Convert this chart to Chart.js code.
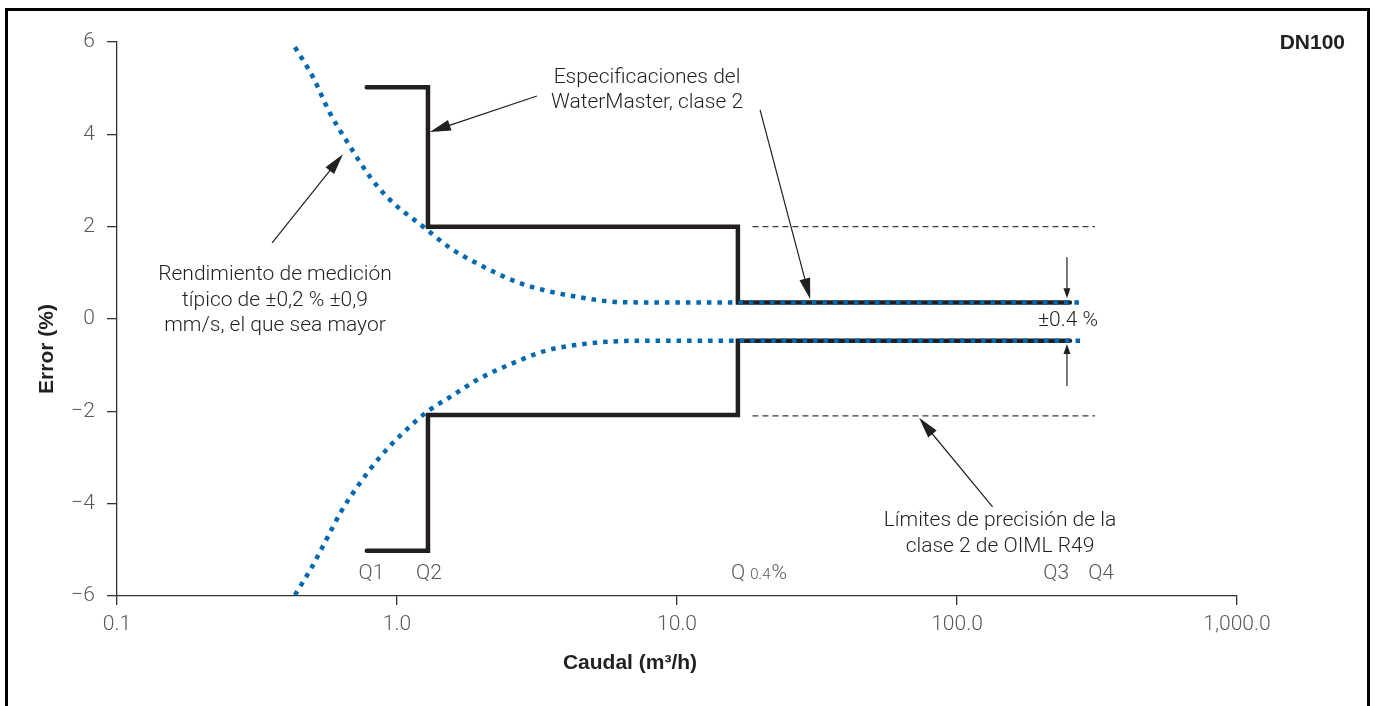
<!DOCTYPE html>
<html>
<head>
<meta charset="utf-8">
<script src="https://cdn.jsdelivr.net/npm/chart.js@4/dist/chart.umd.min.js"></script>
<style>
  html, body { margin: 0; padding: 0; background: #fff; }
  #wrap { width: 1375px; height: 706px; }
</style>
</head>
<body>
<div id="wrap"><canvas id="errorChart" width="1375" height="706"></canvas></div>
<script>
// Caudal (m3/h) y error (%)
const xTickValues = [0.1, 1, 10, 100, 1000];
const xTickLabels = ['0.1', '1.0', '10.0', '100.0', '1,000.0'];

// rendimiento típico (curva azul punteada)
const typFlowUpper = [0.432, 0.501, 0.576, 0.668, 0.801, 0.944, 1.259, 1.546, 1.98, 2.68, 3.43, 4.39, 5.76, 7.38, 279];
const typErrUpper = [5.89, 5.24, 4.46, 3.81, 3.08, 2.58, 1.97, 1.54, 1.17, 0.80, 0.61, 0.48, 0.38, 0.36, 0.36];
const typFlowLower = [0.432, 0.497, 0.544, 0.636, 0.738, 0.869, 1.05, 1.28, 1.585, 1.93, 2.68, 3.43, 4.39, 5.76, 7.38, 279];
const typErrLower = [-5.98, -5.37, -4.92, -4.14, -3.55, -2.99, -2.47, -2.01, -1.65, -1.32, -0.92, -0.68, -0.56, -0.49, -0.47, -0.47];

// especificación WaterMaster clase 2 (escalones negros)
const specFlow = [0.78, 1.29, 1.29, 16.5, 16.5, 253];
const specErrUpper = [5.02, 5.02, 2.0, 2.0, 0.36, 0.36];
const specErrLower = [-5.02, -5.02, -2.08, -2.08, -0.47, -0.47];

// límites OIML R49 clase 2 (discontinuas)
const oimlFlow = [18.6, 311];
const oimlErrUpper = [2.0, 2.0];
const oimlErrLower = [-2.1, -2.1];

// marcas de caudal
const qNames = ['Q1', 'Q2', 'Q3', 'Q4'];
const qFlows = [0.81, 1.30, 226, 327];
const q04Flow = 16.5;

function pts(xs, ys) {
    return xs.map((v, i) => ({ x: v, y: ys[i] }));
}

const blue = '#0067b1';
const ink = '#231f20';
const grey = '#58595b';
const lightFont = '"Helvetica Neue", Roboto, "Liberation Sans", sans-serif';
const boldFont = 'bold 21px "Liberation Sans", Arial, sans-serif';

const typStyle = {
    borderColor: blue,
    borderWidth: 4.5,
    borderDash: [4.5, 6],
    borderCapStyle: 'butt',
    pointRadius: 0,
    cubicInterpolationMode: 'monotone',
    fill: false,
    order: 0,
};
const specStyle = {
    borderColor: ink,
    borderWidth: 4.5,
    borderCapStyle: 'round',
    borderJoinStyle: 'miter',
    pointRadius: 0,
    tension: 0,
    fill: false,
    order: 1,
};
const oimlStyle = {
    borderColor: '#3a3a3a',
    borderWidth: 1.3,
    borderDash: [6, 4],
    pointRadius: 0,
    fill: false,
    order: 2,
};

// Flecha con punta rellena
function arrow(ctx, x1, y1, x2, y2, len, half) {
    const a = Math.atan2(y2 - y1, x2 - x1);
    ctx.beginPath();
    ctx.moveTo(x1, y1);
    ctx.lineTo(x2 - Math.cos(a) * len * 0.8, y2 - Math.sin(a) * len * 0.8);
    ctx.stroke();
    ctx.beginPath();
    ctx.moveTo(x2, y2);
    ctx.lineTo(x2 - Math.cos(a) * len + Math.sin(a) * half, y2 - Math.sin(a) * len - Math.cos(a) * half);
    ctx.lineTo(x2 - Math.cos(a) * len - Math.sin(a) * half, y2 - Math.sin(a) * len + Math.cos(a) * half);
    ctx.closePath();
    ctx.fill();
}

function lines(ctx, arr, x, y, step) {
    arr.forEach((t, i) => ctx.fillText(t, x, y + i * step));
}

const notesPlugin = {
    id: 'notes',
    afterDraw(chart) {
        const { ctx, scales } = chart;
        const px = v => scales.x.getPixelForValue(v);
        const py = v => scales.y.getPixelForValue(v);
        ctx.save();

        // marco
        ctx.strokeStyle = '#000';
        ctx.lineWidth = 3;
        ctx.strokeRect(6.5, 9.5, 1362, 800);

        // flechas
        ctx.strokeStyle = ink;
        ctx.fillStyle = ink;
        ctx.lineWidth = 1.2;
        arrow(ctx, px(0.358), py(1.65), px(0.641), py(3.57), 21, 5.5);
        arrow(ctx, px(3.16), py(4.83), px(1.31), py(4.05), 21, 5.5);
        arrow(ctx, px(19.8), py(4.53), px(29.9), py(0.43), 21, 5.5);
        arrow(ctx, px(134), py(-4.07), px(73.2), py(-2.14), 21, 5.5);
        arrow(ctx, px(247), py(1.34), px(247), py(0.45), 10, 3.5);
        arrow(ctx, px(247), py(-1.45), px(247), py(-0.54), 10, 3.5);

        // textos
        ctx.fillStyle = ink;
        ctx.textAlign = 'center';
        ctx.textBaseline = 'middle';
        ctx.font = '300 21px ' + lightFont;
        lines(ctx, ['Especificaciones del', 'WaterMaster, clase 2'], 647, 78, 25);
        lines(ctx, ['Rendimiento de medición', 'típico de ±0,2 % ±0,9', 'mm/s, el que sea mayor'], 275, 275, 25.5);
        lines(ctx, ['Límites de precisión de la', 'clase 2 de OIML R49'], 1000, 521, 26);
        ctx.fillText('±0.4 %', 1068, 321);

        // etiquetas Q
        ctx.fillStyle = grey;
        const qy = 574;
        qNames.forEach((n, i) => ctx.fillText(n, px(qFlows[i]), qy));
        ctx.textAlign = 'left';
        let qx = px(q04Flow) - 7;
        ctx.fillText('Q', qx, qy);
        qx += ctx.measureText('Q ').width;
        ctx.font = '300 15px ' + lightFont;
        ctx.fillText('0.4', qx, qy + 1);
        qx += ctx.measureText('0.4').width + 1;
        ctx.font = '300 21px ' + lightFont;
        ctx.fillText('%', qx, qy);

        // títulos
        ctx.fillStyle = ink;
        ctx.font = boldFont;
        ctx.textAlign = 'right';
        ctx.fillText('DN100', 1345, 43);
        ctx.textAlign = 'center';
        ctx.fillText('Caudal (m³/h)', 630, 663);
        ctx.save();
        ctx.translate(47, 349);
        ctx.rotate(-Math.PI / 2);
        ctx.fillText('Error (%)', 0, 0);
        ctx.restore();

        ctx.restore();
    }
};

const ctx = document.getElementById('errorChart').getContext('2d');
new Chart(ctx, {
    type: 'line',
    data: {
        datasets: [
            Object.assign({ label: 'Típico +', data: pts(typFlowUpper, typErrUpper) }, typStyle),
            Object.assign({ label: 'Típico -', data: pts(typFlowLower, typErrLower) }, typStyle),
            Object.assign({ label: 'WaterMaster +', data: pts(specFlow, specErrUpper) }, specStyle),
            Object.assign({ label: 'WaterMaster -', data: pts(specFlow, specErrLower) }, specStyle),
            Object.assign({ label: 'OIML +', data: pts(oimlFlow, oimlErrUpper) }, oimlStyle),
            Object.assign({ label: 'OIML -', data: pts(oimlFlow, oimlErrLower) }, oimlStyle),
        ],
    },
    options: {
        responsive: false,
        animation: false,
        layout: { padding: { left: 0, top: 42, right: 138, bottom: 0 } },
        plugins: {
            legend: { display: false },
            tooltip: { enabled: false },
        },
        scales: {
            x: {
                type: 'logarithmic',
                min: 0.1,
                max: 1000,
                afterBuildTicks: s => { s.ticks = xTickValues.map(v => ({ value: v })); },
                afterFit: s => { s.height = 110; },
                grid: { drawOnChartArea: false, tickLength: 9, color: '#333', lineWidth: 1.3 },
                border: { color: '#333', width: 1.3 },
                ticks: {
                    color: grey,
                    font: { family: lightFont, size: 21, weight: '300' },
                    padding: 7,
                    maxRotation: 0,
                    callback: (v, i) => xTickLabels[i],
                },
            },
            y: {
                min: -6,
                max: 6,
                afterFit: s => { s.width = 117; },
                grid: { drawOnChartArea: false, tickLength: 10, color: '#333', lineWidth: 1.3 },
                border: { color: '#333', width: 1.3 },
                ticks: {
                    stepSize: 2,
                    color: grey,
                    font: { family: lightFont, size: 21, weight: '300' },
                    padding: 12,
                    callback: v => v < 0 ? '\u2212' + Math.abs(v) : String(v),
                },
            },
        },
    },
    plugins: [notesPlugin],
});
</script>
</body>
</html>
